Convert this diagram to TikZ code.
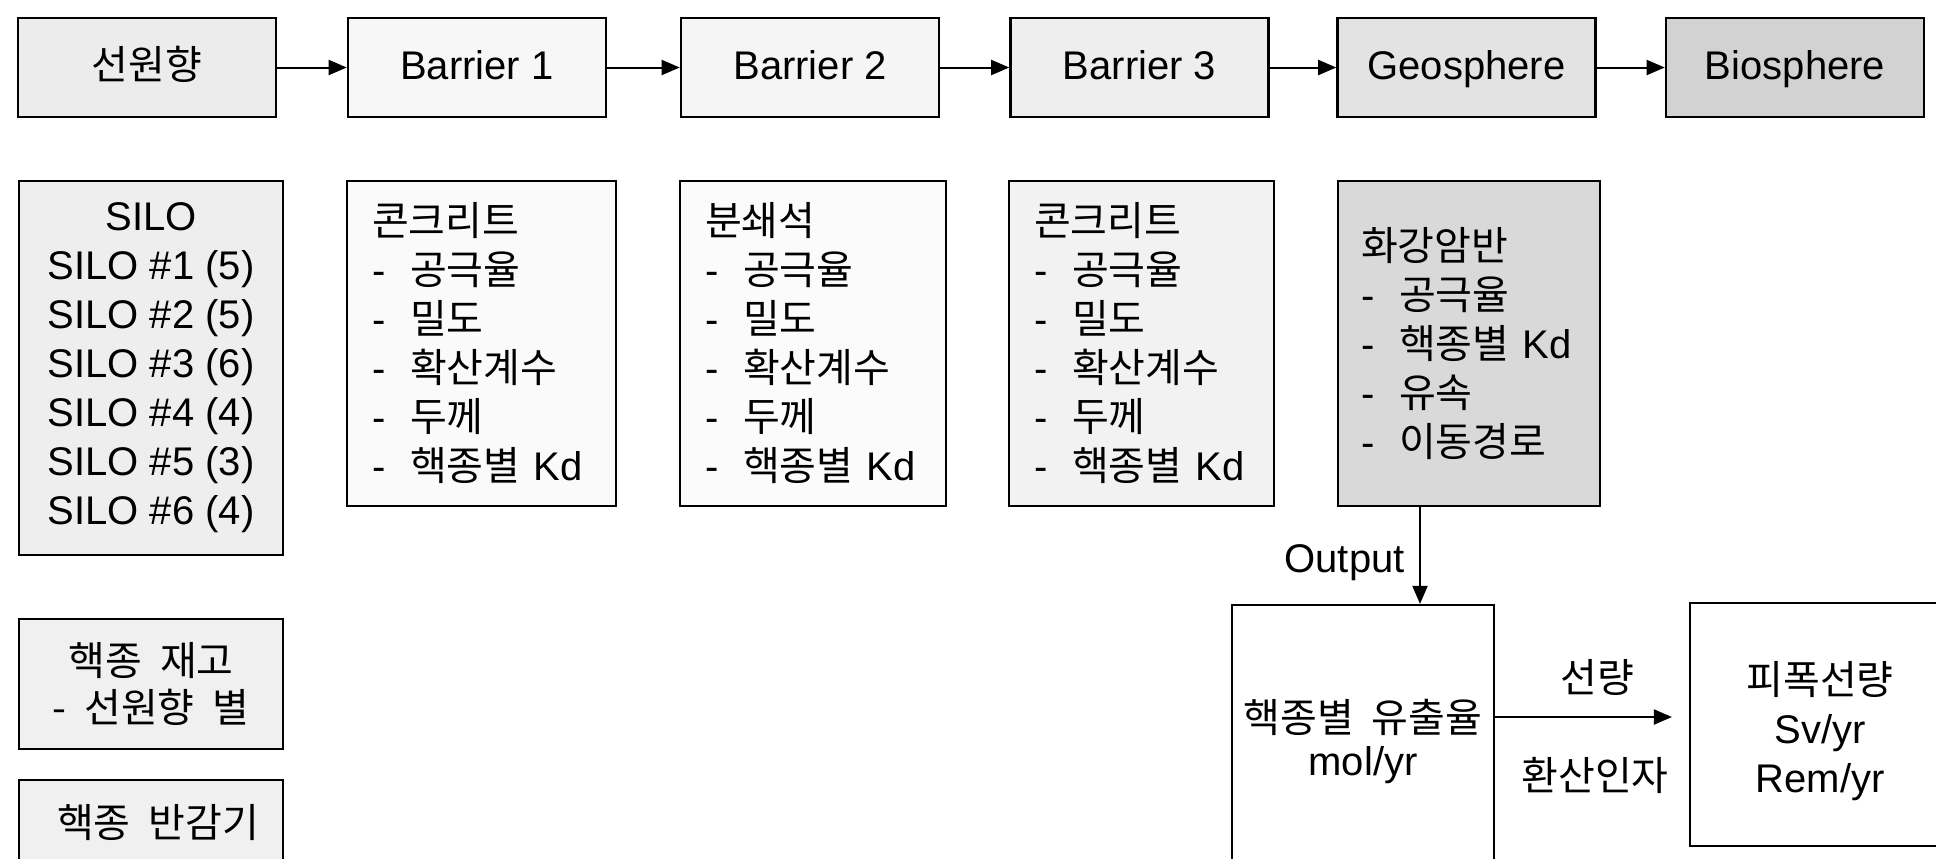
\documentclass[tikz,border=0pt]{standalone}
\usepackage{fontspec}
\setmainfont{Liberation Sans}
\newfontfamily\kr{Noto Sans CJK KR}
\usetikzlibrary{arrows.meta,calc}
\newcommand\hk[1]{{\kr #1}}
\newcommand\kspace{\hspace{0.45em}}
\newcommand\dashitem{\makebox[19pt][l]{-}}
\begin{document}
\begin{tikzpicture}[x=0.5pt,y=-0.5pt,
  every node/.style={font=\fontsize{20}{24.5}\selectfont, inner sep=0pt},
  topbox/.style={draw, line width=1.3pt, minimum width=129pt, minimum height=49.5pt, text height=15pt, text depth=3pt},
  pbox/.style={draw, line width=1.2pt, align=left, inner xsep=12.5pt, minimum height=162.5pt},
  cbox/.style={draw, line width=1.2pt, align=center, minimum width=132pt},
  obox/.style={draw, line width=1.1pt},
  arr/.style={line width=1pt, -{Triangle[length=9pt,width=7.5pt]}}]
\useasboundingbox (0,0) rectangle (1936,858);
\clip (0,0) rectangle (1936,858);
\fill[white] (0,0) rectangle (1936,858);
% top row
\node[topbox, fill=gray!15] (src) at (147,67.5) {\hk{선원향}};
\node[topbox, fill=gray!6]  (b1)  at (477,67.5) {Barrier 1};
\node[topbox, fill=gray!8]  (b2)  at (810,67.5) {Barrier 2};
\node[topbox, fill=gray!13] (b3)  at (1139.5,67.5) {Barrier 3};
\node[topbox, fill=gray!22] (geo) at (1466.5,67.5) {Geosphere};
\node[topbox, fill=gray!35] (bio) at (1795,67.5) {Biosphere};
\draw[arr] (src.east) -- (b1.west);
\draw[arr] (b1.east) -- (b2.west);
\draw[arr] (b2.east) -- (b3.west);
\draw[arr] (b3.east) -- (geo.west);
\draw[arr] (geo.east) -- (bio.west);
% second row
\node[cbox, fill=gray!13, minimum height=187pt] (silo) at (151,368)
  {SILO\\ SILO \#1 (5)\\ SILO \#2 (5)\\ SILO \#3 (6)\\ SILO \#4 (4)\\ SILO \#5 (3)\\ SILO \#6 (4)};
\node[pbox, fill=gray!4, text width=109.5pt] (p1) at (481.5,343.5)
  {\hk{콘크리트}\\ \dashitem\hk{공극율}\\ \dashitem\hk{밀도}\\ \dashitem\hk{확산계수}\\ \dashitem\hk{두께}\\ \dashitem\hk{핵종별}~Kd};
\node[pbox, fill=gray!3, text width=108pt] (p2) at (813,343.5)
  {\hk{분쇄석}\\ \dashitem\hk{공극율}\\ \dashitem\hk{밀도}\\ \dashitem\hk{확산계수}\\ \dashitem\hk{두께}\\ \dashitem\hk{핵종별}~Kd};
\node[pbox, fill=gray!10, text width=107.5pt] (p3) at (1141.5,343.5)
  {\hk{콘크리트}\\ \dashitem\hk{공극율}\\ \dashitem\hk{밀도}\\ \dashitem\hk{확산계수}\\ \dashitem\hk{두께}\\ \dashitem\hk{핵종별}~Kd};
\node[pbox, fill=gray!30, inner xsep=11.5pt, text width=108pt] (pg) at (1469,343.5)
  {\hk{화강암반}\\ \dashitem\hk{공극율}\\ \dashitem\hk{핵종별}~Kd\\ \dashitem\hk{유속}\\ \dashitem\hk{이동경로}};
% bottom left
\node[cbox, fill=gray!12, minimum height=65pt, font=\fontsize{20}{23.5}\selectfont] (inv) at (151,684)
  {\hk{핵종\kspace 재고}\\ \hk{-\kspace 선원향\kspace 별}};
\node[cbox, fill=gray!12, minimum height=60pt] (halfB) at (151,840) {};
\node (halfT) at (158,823) {\hk{핵종\kspace 반감기}};
% bottom right
\node[obox, minimum width=131pt, minimum height=147.5pt] (outB) at (1363,752.5) {};
\node (rl1) at (1363,717) {\hk{핵종별\kspace 유출율}};
\node (rl2) at (1363,765) {mol/yr};
\node[obox, minimum width=130pt, minimum height=121.5pt] (dose) at (1820,724.5) {};
\node[align=center] (doseT) at (1820,731) {\hk{피폭선량}\\ Sv/yr\\ Rem/yr};
\coordinate (ot) at ($(pg.south)+(-49,0)$);
\draw[arr] (ot) -- (ot |- outB.north);
\node[anchor=east] (olbl) at (1405,563) {Output};
\draw[arr] (outB.east |- rl1) -- ($(dose.west |- rl1)+(-17,0)$);
\node (dl1) at (1597,677) {\hk{선량}};
\node (dl2) at (1595,775) {\hk{환산인자}};
\end{tikzpicture}
\end{document}
